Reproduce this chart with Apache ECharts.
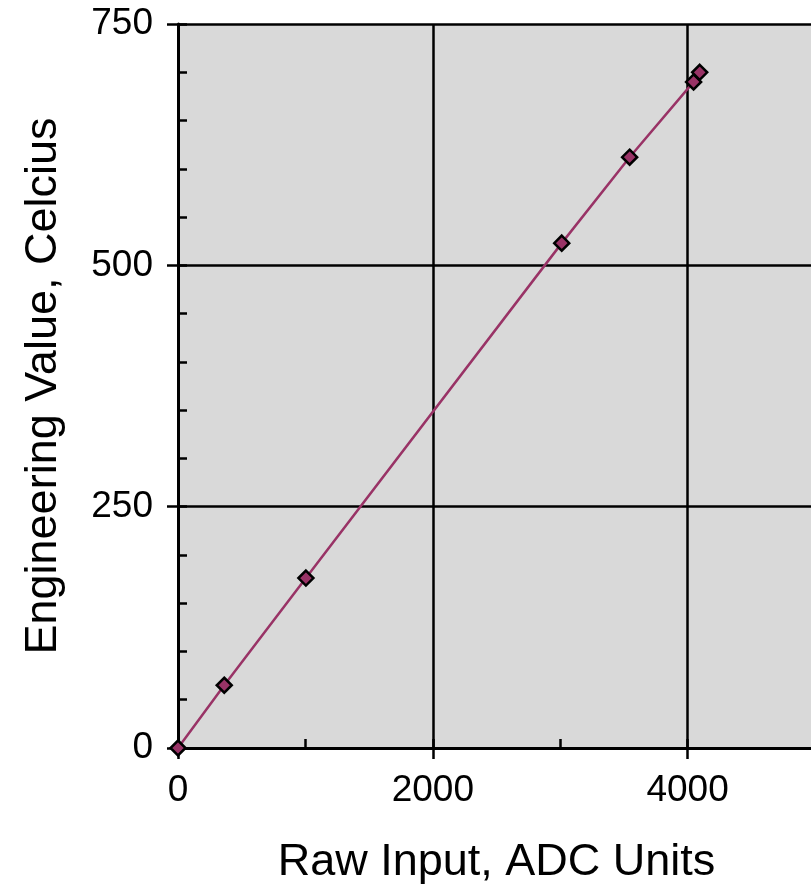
<!DOCTYPE html>
<html><head><meta charset="utf-8">
<script src="https://cdn.jsdelivr.net/npm/echarts@6/dist/echarts.min.js"></script>
<style>html,body{margin:0;padding:0;background:#fff}#c{width:811px;height:888px}</style>
</head><body><div id="c"></div>
<script>
// Data
const rawInput = [0, 363, 1004, 3012, 3545, 4047, 4095];      // Raw Input, ADC Units
const engValue = [0, 65, 176, 523, 612, 690, 700];            // Engineering Value, Celcius
const xMin = 0, xMax = 5000, xMajor = 2000, xMinor = 1000;
const yMin = 0, yMax = 750, yMajor = 250, yMinor = 50;
const xTitle = 'Raw Input, ADC Units';
const yTitle = 'Engineering Value, Celcius';

const FONT = 'Liberation Sans, Arial, Helvetica, sans-serif';
const points = rawInput.map((x, i) => [x, engValue[i]]);
const gridPos = { left: 178, top: 24, right: -4, bottom: 140, outerBoundsMode: 'none' };
const plain = v => String(v);

const chart = echarts.init(document.getElementById('c'), null, { renderer: 'canvas' });
chart.setOption({
  animation: false,
  backgroundColor: '#ffffff',
  grid: [
    Object.assign({ show: true, backgroundColor: '#d9d9d9', borderWidth: 0, containLabel: false }, gridPos),
    Object.assign({ show: false, containLabel: false }, gridPos)
  ],
  xAxis: [{
    type: 'value', gridIndex: 0, min: xMin, max: xMax, interval: xMajor,
    name: xTitle, nameLocation: 'middle', nameGap: 92,
    nameTextStyle: { fontSize: 45, color: '#000', fontFamily: FONT },
    axisLine: { show: true, onZero: false, lineStyle: { color: '#000', width: 3 } },
    axisTick: { show: true, inside: false, length: 11, lineStyle: { color: '#000', width: 2.5 } },
    axisLabel: { fontSize: 37, color: '#000', fontFamily: FONT, margin: 24, showMaxLabel: false, formatter: plain },
    splitLine: { show: true, lineStyle: { color: '#000', width: 2.5 } }
  }, {
    type: 'value', gridIndex: 1, min: xMin, max: xMax, interval: xMinor,
    axisLine: { show: false },
    axisTick: { show: true, inside: true, length: 9, lineStyle: { color: '#000', width: 2.5 } },
    axisLabel: { show: false },
    splitLine: { show: false }
  }],
  yAxis: [{
    type: 'value', gridIndex: 0, min: yMin, max: yMax, interval: yMajor,
    name: yTitle, nameLocation: 'middle', nameGap: 112,
    nameTextStyle: { fontSize: 45, color: '#000', fontFamily: FONT },
    axisLine: { show: true, onZero: false, lineStyle: { color: '#000', width: 3 } },
    axisTick: { show: true, inside: false, length: 11, lineStyle: { color: '#000', width: 2.5 } },
    axisLabel: { fontSize: 37, color: '#000', fontFamily: FONT, margin: 25, formatter: plain },
    splitLine: { show: true, lineStyle: { color: '#000', width: 2.5 } }
  }, {
    type: 'value', gridIndex: 1, min: yMin, max: yMax, interval: yMinor,
    axisLine: { show: false },
    axisTick: { show: true, inside: true, length: 9, lineStyle: { color: '#000', width: 2.5 } },
    axisLabel: { show: false },
    splitLine: { show: false }
  }],
  series: [{
    type: 'line', xAxisIndex: 0, yAxisIndex: 0,
    data: points,
    symbol: 'diamond', symbolSize: 15,
    itemStyle: { color: '#993366', borderColor: '#000', borderWidth: 2.5 },
    lineStyle: { color: '#993366', width: 2.5 },
    z: 5
  }, {
    type: 'scatter', xAxisIndex: 1, yAxisIndex: 1, data: [], silent: true
  }]
});
</script>
</body></html>
